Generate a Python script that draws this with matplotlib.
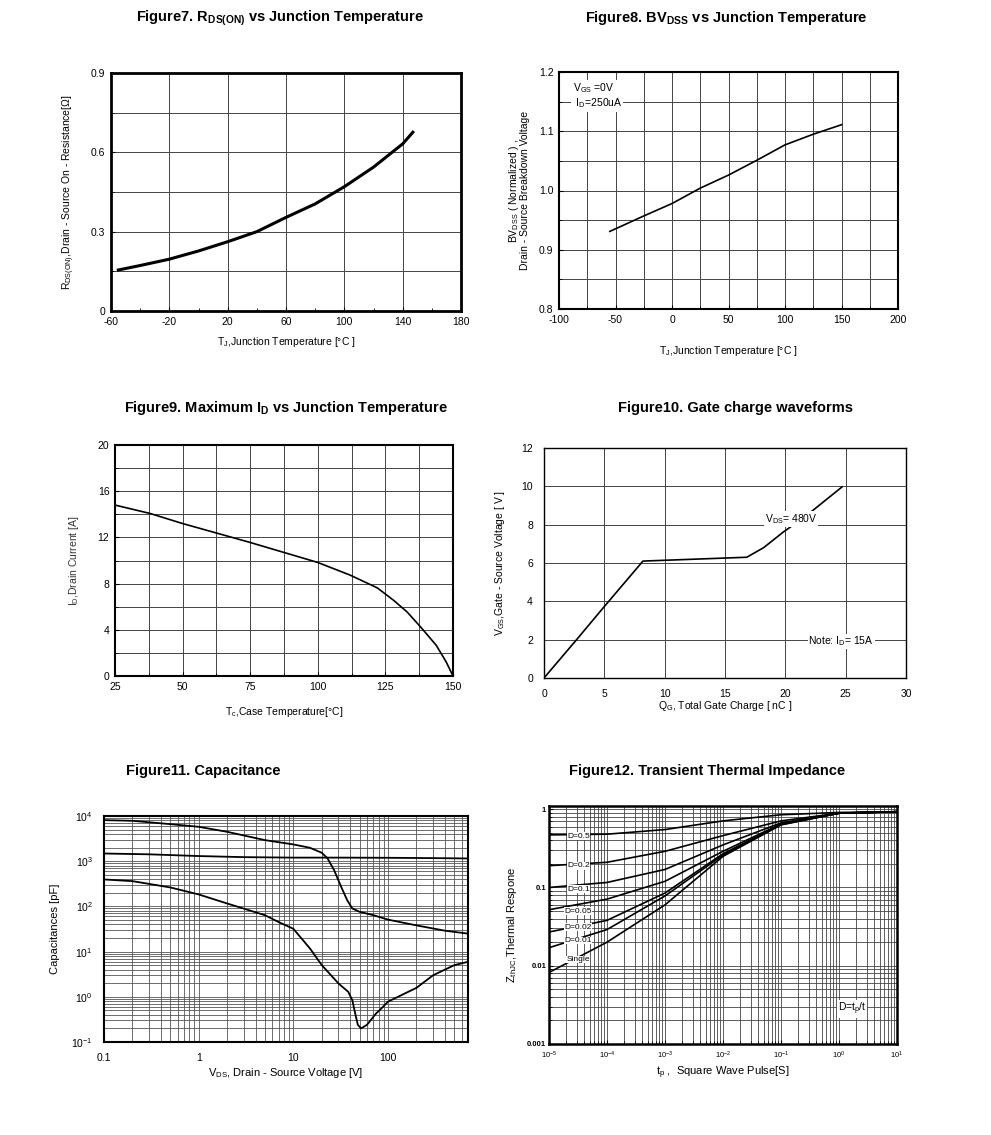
import numpy as np
import matplotlib
matplotlib.use("Agg")
import matplotlib.pyplot as plt
from matplotlib.ticker import MultipleLocator, LogLocator, NullFormatter, FixedLocator

plt.rcParams['font.family'] = ['Liberation Sans', 'DejaVu Sans']
plt.rcParams['mathtext.fontset'] = 'custom'
plt.rcParams['mathtext.rm'] = 'Liberation Sans'
plt.rcParams['mathtext.it'] = 'Liberation Sans:italic'
plt.rcParams['mathtext.bf'] = 'Liberation Sans:bold'
plt.rcParams['axes.unicode_minus'] = False

# Figure 7: RDS(on) vs Tj
tj7 = [-55, -40, -20, 0, 20, 40, 60, 80, 100, 120, 140, 147]
rds7 = [0.155, 0.172, 0.196, 0.227, 0.262, 0.300, 0.354, 0.405, 0.470, 0.544, 0.632, 0.676]
ticks7 = [-60, -20, 20, 60, 100, 140, 180]

# Figure 8: BVdss normalized vs Tj
tj8 = [-55, -25, 0, 25, 50, 75, 100, 125, 150]
bv8 = [0.931, 0.957, 0.978, 1.004, 1.026, 1.051, 1.077, 1.095, 1.111]

# Figure 9: max Id vs Tc
tc9 = [25, 38, 50, 75, 100, 112, 122, 128, 133, 138, 143.8, 147.5, 150]
id9 = [14.8, 14.07, 13.2, 11.56, 9.83, 8.73, 7.63, 6.56, 5.55, 4.25, 2.66, 1.21, 0.0]

# Figure 10: gate charge
qg10 = [0, 2.7, 5.0, 8.2, 16.8, 18.2, 19.8, 21.8, 24.7]
vgs10 = [0, 2.0, 3.73, 6.1, 6.3, 6.8, 7.6, 8.5, 9.97]

# Figure 11: capacitances
vds_a = [0.1, 0.2, 0.5, 1, 2, 5, 10, 15, 20, 23, 27, 32, 37, 42, 50, 70, 100, 200, 400, 700]
cap_a = [8100, 7830, 6610, 5770, 4470, 2930, 2350, 1980, 1535, 1150, 630, 272, 138, 90, 76, 64, 51, 38, 29, 25]
vds_b = [0.1, 0.3, 1, 3, 10, 30, 100, 300, 700]
cap_b = [1480, 1420, 1300, 1230, 1200, 1200, 1190, 1170, 1150]
vds_c = [0.1, 0.2, 0.5, 1, 2, 5, 7, 10, 15, 20, 25, 30, 38, 42, 45, 48, 52, 60, 75, 85, 100, 150, 200, 300, 500, 700]
cap_c = [395, 362, 263, 184, 116, 64, 45, 32, 11.7, 5.0, 3.0, 1.97, 1.29, 0.84, 0.43, 0.24, 0.20, 0.24, 0.43, 0.55,
         0.78, 1.18, 1.58, 3.0, 5.0, 5.95]

# Figure 12: transient thermal impedance
tp12 = [1e-5, 1e-4, 1e-3, 1e-2, 1e-1, 1, 10]
z_d05 = [0.47, 0.48, 0.55, 0.71, 0.85, 0.91, 0.93]
z_d02 = [0.19, 0.21, 0.29, 0.46, 0.71, 0.89, 0.93]
z_d01 = [0.10, 0.116, 0.17, 0.35, 0.67, 0.89, 0.93]
z_d005 = [0.052, 0.071, 0.12, 0.29, 0.65, 0.89, 0.93]
z_d002 = [0.027, 0.038, 0.085, 0.27, 0.64, 0.89, 0.93]
z_d001 = [0.017, 0.029, 0.078, 0.26, 0.64, 0.89, 0.93]
z_single = [0.0082, 0.020, 0.060, 0.25, 0.63, 0.89, 0.93]
z_labels = ['D=0.5', 'D=0.2', 'D=0.1', 'D=0.05', 'D=0.02', 'D=0.01', 'Single']
z_label_y = [0.45, 0.19, 0.095, 0.05, 0.031, 0.021, 0.012]

W, H = 991, 1135
fig = plt.figure(figsize=(W / 100, H / 100), dpi=100)


def box(l, r, t, b):
    return fig.add_axes([l / W, 1 - b / H, (r - l) / W, (b - t) / H])


def style(ax, lw=1.5):
    for s in ax.spines.values():
        s.set_linewidth(lw)
        s.set_color('black')
    ax.tick_params(which='both', direction='in', labelsize=7.5, length=3, pad=4)
    ax.tick_params(which='minor', length=2)


def title(x, y, s):
    fig.text(x / W, 1 - y / H, s, ha='center', va='center', fontsize=10.5, fontweight='bold')


GRID = dict(color='#444444', lw=0.7)

# ---- Figure 7
ax = box(111, 461, 73, 311)
ax.plot(tj7, rds7, color='black', lw=2.2)
ax.set_xlim(-60, 180)
ax.set_ylim(0, 0.9)
ax.xaxis.set_major_locator(FixedLocator(ticks7))
ax.xaxis.set_minor_locator(MultipleLocator(20))
ax.yaxis.set_major_locator(FixedLocator([0, 0.3, 0.6, 0.9]))
ax.yaxis.set_minor_locator(MultipleLocator(0.15))
ax.set_yticklabels(['0', '0.3', '0.6', '0.9'])
ax.grid(True, which='both', axis='y', **GRID)
ax.grid(True, which='major', axis='x', **GRID)
style(ax, 2)
ax.set_xlabel(r'T$_\mathrm{J}$,Junction Temperature [°C ]', fontsize=7.5, labelpad=6)
ax.set_ylabel(r'R$_\mathrm{DS(ON)}$,Drain - Source On - Resistance[$\Omega$]', fontsize=7.5, labelpad=10)
title(280, 18, r'Figure7. R$_{\mathbf{DS(ON)}}$ vs Junction Temperature')

# ---- Figure 8
ax = box(559, 898, 72, 309)
ax.plot(tj8, bv8, color='black', lw=1.2)
ax.set_xlim(-100, 200)
ax.set_ylim(0.8, 1.2)
ax.xaxis.set_major_locator(MultipleLocator(50))
ax.xaxis.set_minor_locator(MultipleLocator(25))
ax.yaxis.set_major_locator(MultipleLocator(0.1))
ax.yaxis.set_minor_locator(MultipleLocator(0.05))
ax.yaxis.set_major_formatter(plt.FormatStrFormatter('%.1f'))
ax.grid(True, which='both', **GRID)
style(ax, 1.5)
ax.text(-88, 1.185, r'V$_\mathrm{GS}$ =0V' + '\n' + r' I$_\mathrm{D}$=250uA', fontsize=7.5, va='top',
        bbox=dict(fc='white', ec='none', pad=1))
ax.set_xlabel(r'T$_\mathrm{J}$,Junction Temperature [°C ]', fontsize=7.5, labelpad=14)
ax.set_ylabel(r'BV$_\mathrm{DSS}$ ( Normalized ) ,' + '\n' + 'Drain - Source Breakdown Voltage',
              fontsize=7.5, labelpad=6, linespacing=0.9)
title(726, 18, r'Figure8. BV$_{\mathbf{DSS}}$ vs Junction Temperature')

# ---- Figure 9
ax = box(115, 453, 445, 676)
ax.plot(tc9, id9, color='black', lw=1.2)
ax.set_xlim(25, 150)
ax.set_ylim(0, 20)
ax.xaxis.set_major_locator(MultipleLocator(25))
ax.xaxis.set_minor_locator(MultipleLocator(12.5))
ax.yaxis.set_major_locator(MultipleLocator(4))
ax.yaxis.set_minor_locator(MultipleLocator(2))
ax.grid(True, which='both', **GRID)
style(ax, 1.5)
ax.set_xlabel(r'T$_\mathrm{c}$,Case Temperature[°C]', fontsize=7.5, labelpad=10)
ax.set_ylabel(r'I$_\mathrm{D}$,Drain Current [A]', fontsize=7.5, labelpad=12, color='#333333')
title(286, 408, r'Figure9. Maximum I$_{\mathbf{D}}$ vs Junction Temperature')

# ---- Figure 10
ax = box(544, 906, 448, 678)
ax.plot(qg10, vgs10, color='black', lw=1.2)
ax.set_xlim(0, 30)
ax.set_ylim(0, 12)
ax.xaxis.set_major_locator(MultipleLocator(5))
ax.yaxis.set_major_locator(MultipleLocator(2))
ax.grid(True, which='major', **GRID)
style(ax, 1.0)
ax.tick_params(length=0, pad=8)
ax.text(20.5, 8.3, r'V$_\mathrm{DS}$= 480V', fontsize=7.5, ha='center', va='center',
        bbox=dict(fc='white', ec='none', pad=0.5))
ax.text(21.9, 1.9, r'Note: I$_\mathrm{D}$= 15A', fontsize=7.5, ha='left', va='center',
        bbox=dict(fc='white', ec='none', pad=0.5))
ax.set_xlabel(r'Q$_\mathrm{G}$, Total Gate Charge [ nC ]', fontsize=7.5, labelpad=0)
ax.set_ylabel(r'V$_\mathrm{GS}$,Gate - Source Voltage [ V ]', fontsize=7.5, labelpad=10)
title(736, 408, 'Figure10. Gate charge waveforms')

# ---- Figure 11
ax = box(104, 468, 816, 1042)
ax.plot(vds_a, cap_a, color='black', lw=1.3)
ax.plot(vds_b, cap_b, color='black', lw=1.3)
ax.plot(vds_c, cap_c, color='black', lw=1.3)
ax.set_xscale('log')
ax.set_yscale('log')
ax.set_xlim(0.1, 700)
ax.set_ylim(0.1, 1e4)
ax.xaxis.set_major_locator(FixedLocator([0.1, 1, 10, 100]))
ax.set_xticklabels(['0.1', '1', '10', '100'])
ax.xaxis.set_minor_locator(LogLocator(base=10, subs=np.arange(2, 10)))
ax.xaxis.set_minor_formatter(NullFormatter())
ax.yaxis.set_major_locator(LogLocator(base=10))
ax.yaxis.set_minor_locator(LogLocator(base=10, subs=np.arange(2, 10)))
ax.yaxis.set_minor_formatter(NullFormatter())
ax.grid(True, which='both', color='#555555', lw=0.6)
style(ax, 1.5)
ax.tick_params(which='both', length=0, pad=8)
ax.set_xlabel(r'V$_\mathrm{DS}$, Drain - Source Voltage [V]', fontsize=8, labelpad=2)
ax.set_ylabel('Capacitances [pF]', fontsize=8, labelpad=8)
title(203, 771, 'Figure11. Capacitance')

# ---- Figure 12
ax = box(549, 897, 806, 1044)
for z in [z_d05, z_d02, z_d01, z_d005, z_d002, z_d001, z_single]:
    ax.plot(tp12, z, color='black', lw=1.2)
for lab, y in zip(z_labels, z_label_y):
    ax.text(3.2e-5, y, lab, fontsize=6, ha='center', va='center',
            bbox=dict(fc='white', ec='none', pad=0.3))
ax.text(1.7, 0.0028, r'D=t$_\mathrm{p}$/t', fontsize=7.5, ha='center', va='center',
        bbox=dict(fc='white', ec='none', pad=0.5))
ax.set_xscale('log')
ax.set_yscale('log')
ax.set_xlim(1e-5, 10)
ax.set_ylim(1e-3, 1.1)
ax.xaxis.set_major_locator(LogLocator(base=10))
ax.xaxis.set_minor_locator(LogLocator(base=10, subs=np.arange(2, 10)))
ax.xaxis.set_minor_formatter(NullFormatter())
ax.yaxis.set_major_locator(FixedLocator([0.001, 0.01, 0.1, 1]))
ax.set_yticklabels(['0.001', '0.01', '0.1', '1'], fontweight='bold')
ax.yaxis.set_minor_locator(LogLocator(base=10, subs=np.arange(2, 10)))
ax.yaxis.set_minor_formatter(NullFormatter())
ax.grid(True, which='both', color='#444444', lw=0.6)
style(ax, 1.8)
ax.tick_params(axis='x', labelsize=5.5)
ax.tick_params(axis='y', labelsize=5.5, pad=2)
ax.set_xlabel(r't$_\mathrm{p}$ ,  Square Wave Pulse[S]', fontsize=8, labelpad=3)
ax.set_ylabel(r'Z$_\mathrm{thJC}$,Thermal Respone', fontsize=8, labelpad=6)
title(707, 771, 'Figure12. Transient Thermal Impedance')

fig.savefig('out.png', dpi=100, facecolor='white')
